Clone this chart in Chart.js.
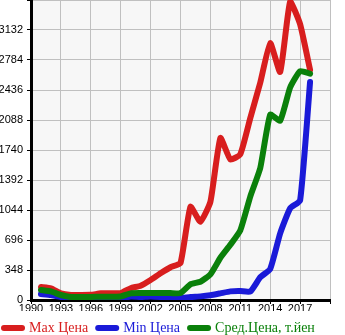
<!DOCTYPE html>
<html>
<head>
<meta charset="utf-8">
<script src="https://cdn.jsdelivr.net/npm/chart.js@4/dist/chart.umd.min.js"></script>
<style>
html,body{margin:0;padding:0;background:#fff;}
#wrap{width:345px;height:335px;position:relative;}
</style>
</head>
<body>
<div id="wrap"><canvas id="c" width="345" height="335"></canvas></div>
<script>
const years = [1991,1992,1993,1994,1995,1996,1997,1998,1999,2000,2001,2002,2003,2004,2005,2006,2007,2008,2009,2010,2011,2012,2013,2014,2015,2016,2017,2018];
const maxPrice = [150,135,77,58,58,60,77,77,80,137,166,232,310,380,429,1082,908,1140,1880,1630,1690,2110,2520,2980,2645,3460,3200,2670];
const minPrice = [70,58,35,12,3,5,5,5,20,40,35,42,35,23,23,35,42,55,77,100,104,97,263,360,773,1063,1155,2530];
const avgPrice = [116,100,58,35,35,36,38,38,40,77,80,80,80,80,80,182,212,298,490,640,808,1200,1530,2150,2080,2465,2655,2625];
const seriesNames = ['Max Цена','Min Цена','Сред.Цена, т.йен'];
const seriesColors = ['#d81e1e','#1a1ad8','#0a800a'];
const yMax = 3480, yStep = 348;
const xMin = 1990, xMax = 2020, xStep = 3;

function pts(vals){ return years.map((y,i)=>({x:y,y:vals[i]})); }

const bgPlugin = {
  id:'bg',
  beforeDraw(chart){
    const a = chart.chartArea, ctx = chart.ctx;
    ctx.save(); ctx.fillStyle='#f7f7f7';
    ctx.fillRect(a.left,a.top,a.right-a.left,a.bottom-a.top);
    ctx.restore();
  }
};

function ds(i, vals, order){
  return {label:seriesNames[i], data:pts(vals), borderColor:seriesColors[i], backgroundColor:seriesColors[i],
    borderWidth:6, pointRadius:0, pointHoverRadius:0, tension:0.15, fill:false,
    borderCapStyle:'round', borderJoinStyle:'round', order:order};
}

const tickFont = {family:'"Liberation Sans Narrow", "Liberation Sans", Arial, sans-serif', size:11};

new Chart(document.getElementById('c'), {
  type:'line',
  data:{datasets:[ds(0,maxPrice,3), ds(1,minPrice,2), ds(2,avgPrice,1)]},
  plugins:[bgPlugin],
  options:{
    responsive:false, animation:false, devicePixelRatio:1,
    layout:{padding:{left:-6,right:15,top:0,bottom:-10}},
    plugins:{
      tooltip:{enabled:false},
      legend:{position:'bottom', align:'start',
        labels:{usePointStyle:true, pointStyle:'line', pointStyleWidth:18, padding:10,
          font:{family:'"Liberation Serif", "Times New Roman", serif', size:14},
          generateLabels(chart){
            return chart.data.datasets.map((d,i)=>({text:d.label, fillStyle:d.borderColor, strokeStyle:d.borderColor,
              fontColor:d.borderColor, lineWidth:6, lineCap:'round', pointStyle:'line', datasetIndex:i, hidden:false}));
          }
        }
      }
    },
    scales:{
      x:{type:'linear', min:xMin, max:xMax,
        afterFit(s){ s.height = 11; s.paddingLeft = 0; s.paddingRight = 0; },
        ticks:{stepSize:xStep, maxRotation:0, autoSkip:false, padding:-2, color:'#000', font:tickFont,
          callback:(v)=> v===xMax ? '' : String(v)},
        grid:{color:'#c0c0c0', lineWidth:1, tickColor:'#000', tickLength:4},
        border:{display:true, color:'#000', width:3}
      },
      y:{min:0, max:yMax,
        afterFit(s){ s.width = 37; s.paddingTop = 0; s.paddingBottom = 0; },
        ticks:{stepSize:yStep, padding:4, color:'#000', font:tickFont,
          callback:(v)=> v===yMax ? '' : String(v)},
        grid:{color:'#c0c0c0', lineWidth:1, tickColor:'#000', tickLength:4},
        border:{display:true, color:'#000', width:3}
      }
    }
  }
});
</script>
</body>
</html>
